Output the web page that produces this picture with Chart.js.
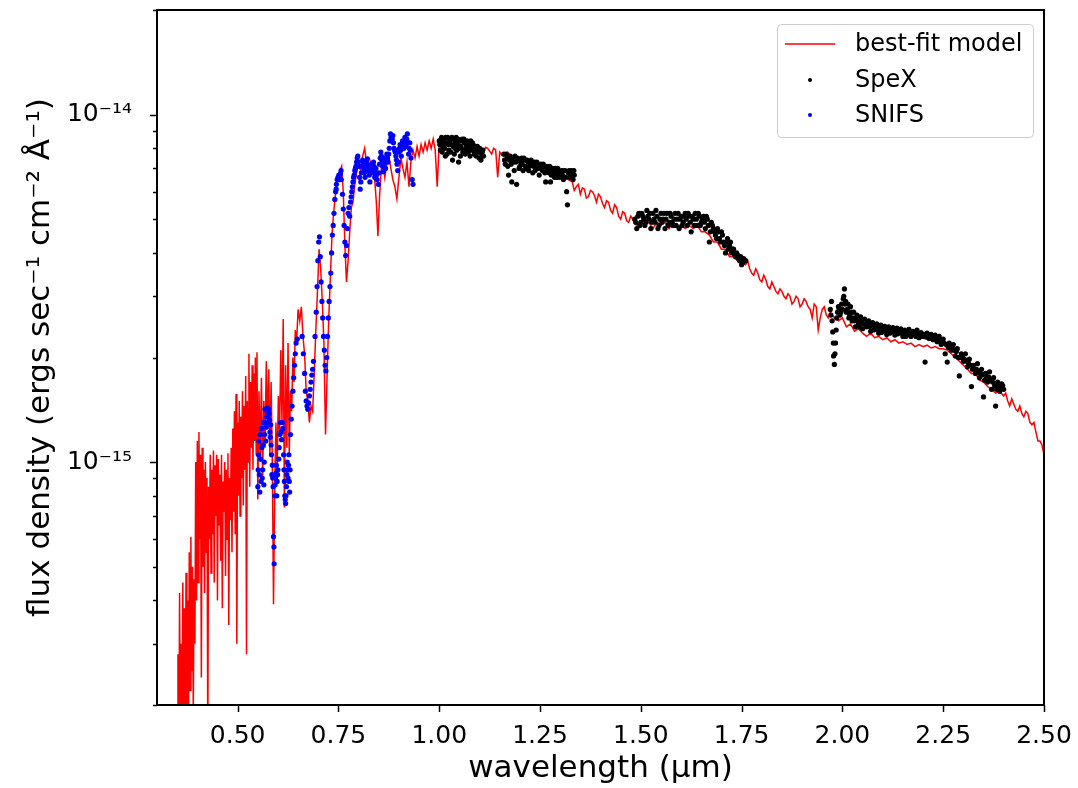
<!DOCTYPE html>
<html>
<head>
<meta charset="utf-8">
<script src="https://cdn.jsdelivr.net/npm/chart.js@4.4.1/dist/chart.umd.min.js"></script>
<style>
  html, body { margin: 0; padding: 0; background: #fff; }
  canvas { display: block; }
</style>
</head>
<body>
<canvas id="sedChart" width="1078" height="788" style="width:1078px;height:788px"></canvas>
<script>
// flux values below are in units of 1e-15 ergs/s/cm2/A
const FLUX_UNIT = 1e-15;

// best-fit model: [wavelength (um), flux]
const modelSpectrum = [
  [0.350,0.15],[0.352,0.28],[0.354,0.12],[0.356,0.42],[0.358,0.15],[0.360,0.30],[0.362,0.13],[0.364,0.45],
  [0.366,0.18],[0.368,0.38],[0.370,0.16],[0.372,0.48],[0.374,0.20],[0.376,0.40],[0.378,0.14],[0.380,0.55],
  [0.382,0.22],[0.384,0.61],[0.386,0.25],[0.388,0.50],[0.390,0.19],[0.392,0.46],[0.394,0.30],[0.396,1.00],
  [0.398,0.40],[0.400,1.15],[0.402,0.45],[0.404,1.22],[0.406,0.60],[0.408,1.05],[0.410,0.24],[0.412,1.10],
  [0.414,0.50],[0.416,0.95],[0.418,0.42],[0.420,1.00],[0.422,0.55],[0.424,0.90],[0.426,0.15],[0.428,0.85],
  [0.430,0.60],[0.432,1.05],[0.434,0.48],[0.436,0.95],[0.438,0.62],[0.440,1.08],[0.442,0.45],[0.444,0.98],
  [0.446,0.70],[0.448,1.05],[0.450,0.40],[0.452,1.02],[0.454,0.66],[0.456,0.92],[0.458,0.52],[0.460,1.05],
  [0.462,0.38],[0.464,0.88],[0.466,0.72],[0.468,1.00],[0.470,0.47],[0.472,0.95],[0.474,0.60],[0.476,1.06],
  [0.478,0.34],[0.480,0.90],[0.482,0.68],[0.484,1.10],[0.486,0.55],[0.488,1.25],[0.490,0.72],[0.492,1.40],
  [0.494,0.62],[0.496,1.57],[0.498,0.30],[0.500,1.30],[0.502,0.80],[0.504,1.50],[0.506,0.70],[0.508,1.35],
  [0.510,0.90],[0.512,1.60],[0.514,0.75],[0.516,1.45],[0.518,0.95],[0.520,1.77],[0.522,0.28],[0.524,1.50],
  [0.526,1.00],[0.528,2.05],[0.530,0.85],[0.532,1.70],[0.534,1.10],[0.536,1.90],[0.538,0.95],[0.540,1.80],
  [0.542,1.15],[0.544,2.00],[0.546,1.05],[0.548,2.07],[0.550,0.78],[0.553,1.60],[0.556,1.00],[0.559,1.75],
  [0.562,0.90],[0.565,1.50],[0.568,1.10],[0.571,1.95],[0.574,1.25],[0.577,1.85],[0.580,1.05],[0.583,1.70],
  [0.586,1.00],[0.589,0.39],[0.592,0.85],[0.595,1.30],[0.598,0.95],[0.601,1.55],[0.604,1.20],[0.607,2.10],
  [0.610,1.30],[0.613,2.58],[0.616,0.74],[0.619,1.90],[0.622,1.10],[0.625,2.20],[0.628,1.05],[0.631,1.60],
  [0.634,1.40],[0.637,2.00],[0.640,1.70],[0.643,2.40],[0.646,2.20],[0.650,2.75],[0.654,2.55],[0.658,2.80],
  [0.662,2.30],[0.666,2.05],[0.670,1.60],[0.674,1.50],[0.678,1.30],[0.682,1.45],[0.686,1.40],[0.690,1.80],
  [0.694,2.40],[0.698,3.10],[0.702,4.10],[0.706,3.60],[0.710,2.90],[0.714,2.20],[0.718,1.20],[0.722,1.80],
  [0.726,2.60],[0.730,3.40],[0.734,4.50],[0.738,5.20],[0.742,5.80],[0.746,6.30],[0.750,6.70],[0.754,6.90],
  [0.758,7.10],[0.762,6.00],[0.766,4.20],[0.770,3.30],[0.774,3.80],[0.778,4.60],[0.782,5.40],[0.786,5.60],
  [0.790,6.20],[0.795,6.80],[0.800,7.20],[0.805,6.90],[0.810,7.60],[0.815,8.00],[0.820,7.20],[0.825,6.80],
  [0.830,7.30],[0.835,6.90],[0.840,6.50],[0.844,5.60],[0.848,4.47],[0.852,5.80],[0.856,6.90],[0.860,7.40],
  [0.865,6.60],[0.870,7.20],[0.875,7.60],[0.880,7.00],[0.885,6.50],[0.890,6.20],[0.895,5.72],[0.900,6.60],
  [0.905,7.50],[0.910,7.00],[0.915,6.60],[0.920,7.30],[0.925,6.20],[0.930,7.40],[0.935,7.90],[0.940,7.50],
  [0.945,8.10],[0.950,7.60],[0.955,8.20],[0.960,7.80],[0.965,8.30],[0.970,7.90],[0.975,8.40],[0.980,8.00],
  [0.985,8.50],[0.990,7.90],[0.995,6.20],[1.000,8.30],[1.010,8.00],[1.020,8.30],[1.030,8.10],[1.040,8.40],
  [1.050,8.00],[1.060,8.30],[1.070,7.90],[1.080,8.20],[1.090,7.80],[1.100,8.10],[1.110,7.80],[1.120,8.00],
  [1.130,7.70],[1.140,7.90],[1.145,6.60],[1.150,7.80],[1.160,7.60],[1.170,7.80],[1.180,7.50],[1.190,7.60],
  [1.200,7.30],[1.210,7.50],[1.220,7.20],[1.230,7.30],[1.240,7.00],[1.250,7.20],[1.260,6.90],[1.270,7.00],
  [1.280,6.80],[1.290,6.90],[1.300,6.60],[1.310,6.70],[1.320,6.50],[1.330,6.40],[1.340,6.20],[1.350,5.90],
  [1.360,6.10],[1.370,5.80],[1.380,6.00],[1.390,5.60],[1.400,5.80],[1.410,5.40],[1.420,5.60],[1.430,5.20],
  [1.440,5.40],[1.450,5.00],[1.460,5.20],[1.470,4.90],[1.480,5.00],[1.490,4.80],[1.500,4.90],[1.510,4.80],
  [1.520,4.90],[1.530,4.70],[1.540,4.90],[1.550,4.80],[1.560,4.90],[1.570,4.70],[1.580,4.90],[1.590,4.80],
  [1.600,4.80],[1.610,4.70],[1.620,4.80],[1.630,4.70],[1.640,4.80],[1.650,4.60],[1.660,4.60],[1.670,4.50],
  [1.680,4.30],[1.690,4.30],[1.700,4.10],[1.710,4.10],[1.720,3.90],[1.730,3.90],[1.740,3.80],[1.750,3.80],
  [1.760,3.70],[1.770,3.60],[1.780,3.45],[1.790,3.50],[1.800,3.30],[1.810,3.35],[1.820,3.15],[1.830,3.20],
  [1.840,3.05],[1.850,3.10],[1.860,2.95],[1.870,3.00],[1.880,2.90],[1.890,2.95],[1.900,2.85],[1.910,2.90],
  [1.920,2.75],[1.930,2.85],[1.940,2.40],[1.950,2.75],[1.960,2.65],[1.970,2.70],[1.980,2.60],[1.990,2.55],
  [2.000,2.60],[2.010,2.45],[2.020,2.50],[2.030,2.38],[2.040,2.42],[2.050,2.35],[2.060,2.30],[2.070,2.35],
  [2.080,2.28],[2.090,2.30],[2.100,2.25],[2.110,2.28],[2.120,2.22],[2.130,2.25],[2.140,2.20],[2.150,2.22],
  [2.160,2.18],[2.170,2.20],[2.180,2.15],[2.190,2.18],[2.200,2.15],[2.210,2.17],[2.220,2.13],[2.230,2.15],
  [2.240,2.12],[2.250,2.12],[2.260,2.10],[2.270,2.05],[2.280,2.00],[2.290,1.95],[2.300,1.90],[2.310,1.85],
  [2.320,1.80],[2.330,1.80],[2.340,1.72],[2.350,1.70],[2.360,1.65],[2.370,1.62],[2.380,1.58],[2.390,1.60],
  [2.400,1.55],[2.410,1.50],[2.420,1.52],[2.430,1.42],[2.440,1.45],[2.450,1.35],[2.460,1.38],[2.470,1.28],
  [2.480,1.22],[2.490,1.15],[2.500,1.05]
];

// extra model samples read in the parts where the red curve is not hidden by data points
const modelDetail = [
  [1.115,8.05],[1.125,7.85],[1.135,8.00],[1.155,7.65],
  [1.335,6.05],[1.345,6.30],[1.355,6.15],[1.365,5.75],[1.375,6.05],[1.385,5.85],[1.395,5.90],[1.405,5.55],
  [1.415,5.65],[1.425,5.30],[1.435,5.50],[1.445,5.10],[1.455,5.25],[1.465,4.95],[1.475,5.10],[1.485,4.85],
  [1.755,3.75],[1.765,3.80],[1.775,3.50],[1.785,3.60],[1.795,3.35],[1.805,3.45],[1.815,3.20],[1.825,3.30],
  [1.835,3.10],[1.845,3.15],[1.855,3.00],[1.865,3.05],[1.875,2.85],[1.885,3.00],[1.895,2.80],[1.905,2.95],
  [1.915,2.80],[1.925,2.60],[1.935,2.80],[1.945,2.60],[1.955,2.80],[1.965,2.60],
  [2.405,1.58],[2.415,1.45],[2.425,1.47],[2.435,1.40],[2.445,1.38],[2.455,1.40],[2.465,1.30],[2.475,1.30],
  [2.485,1.15],[2.495,1.12]
];

// SpeX observed points: [wavelength (um), flux]
const spexPoints = [
  [1.000,8.4],[1.003,7.9],[1.006,8.6],[1.009,8.1],[1.012,8.5],[1.015,7.6],[1.018,8.3],[1.021,8.6],
  [1.024,7.9],[1.027,8.4],[1.030,8.2],[1.033,7.4],[1.036,8.5],[1.039,8.0],[1.042,8.6],[1.045,8.2],
  [1.048,7.3],[1.051,8.4],[1.054,8.1],[1.057,8.5],[1.060,7.9],[1.063,8.3],[1.066,8.0],[1.069,8.4],
  [1.072,7.8],[1.075,8.2],[1.078,8.4],[1.081,7.9],[1.084,8.2],[1.087,7.7],[1.090,8.1],[1.093,7.8],
  [1.096,8.0],[1.099,7.5],[1.102,7.9],[1.105,7.7],[1.108,7.9],[1.110,7.6],
  [1.0015,8.2],[1.0045,8.5],[1.0075,7.8],[1.0105,8.3],[1.0135,8.0],[1.0165,8.6],[1.0195,7.7],[1.0225,8.2],
  [1.0255,8.5],[1.0285,7.8],[1.0315,8.6],[1.0345,8.1],[1.0375,7.7],[1.0405,8.3],[1.0435,7.9],[1.0465,8.5],
  [1.0495,8.0],[1.0525,7.6],[1.0555,8.4],[1.0585,7.8],[1.0615,8.5],[1.0645,7.7],[1.0675,8.2],[1.0705,8.0],
  [1.0735,8.3],[1.0765,7.6],[1.0795,8.1],[1.0825,8.3],[1.0855,7.9],[1.0885,8.0],[1.0915,7.6],[1.0945,8.1],
  [1.0975,7.8],[1.1005,8.0],[1.1035,7.4],[1.1065,7.8],
  [1.160,7.7],[1.164,7.2],[1.168,7.5],[1.172,6.7],[1.176,7.6],[1.180,6.4],[1.184,7.3],[1.188,7.6],
  [1.192,6.3],[1.196,7.4],[1.200,7.1],[1.204,7.5],[1.208,6.9],[1.212,7.4],[1.216,7.0],[1.220,7.3],
  [1.224,7.1],[1.228,7.4],[1.232,6.8],[1.236,7.3],[1.240,7.0],[1.244,7.2],[1.248,6.7],[1.252,7.2],
  [1.256,6.9],[1.260,7.1],[1.264,6.4],[1.268,7.0],[1.272,6.8],[1.276,6.4],[1.280,7.0],[1.284,6.8],
  [1.288,7.0],[1.292,6.6],[1.296,6.9],[1.300,6.7],[1.304,6.9],[1.308,6.5],[1.312,6.9],[1.316,6.0],
  [1.318,5.5],[1.320,6.8],[1.324,6.6],[1.328,6.9],[1.332,6.5],[1.335,6.7],
  [1.162,7.4],[1.166,7.7],[1.170,7.1],[1.174,7.4],[1.178,7.2],[1.182,7.5],[1.186,6.9],[1.190,7.3],
  [1.194,7.5],[1.198,7.0],[1.202,7.3],[1.206,7.2],[1.210,7.5],[1.214,7.1],[1.218,7.4],[1.222,6.9],
  [1.226,7.2],[1.230,7.3],[1.234,7.1],[1.238,6.9],[1.242,7.3],[1.246,7.0],[1.250,7.1],[1.254,7.0],
  [1.258,7.2],[1.262,6.8],[1.266,7.1],[1.270,6.9],[1.274,7.1],[1.278,6.7],[1.282,6.9],[1.286,6.6],
  [1.290,6.8],[1.294,7.0],[1.298,6.6],[1.302,6.8],[1.306,6.7],[1.310,6.9],[1.314,6.6],[1.322,6.9],
  [1.326,6.7],[1.330,6.8],[1.334,6.9],
  [1.485,5.0],[1.490,4.7],[1.495,5.2],[1.500,4.9],[1.505,5.1],[1.510,4.8],[1.515,5.3],[1.520,5.0],
  [1.525,4.7],[1.530,5.2],[1.535,4.9],[1.540,5.1],[1.545,4.8],[1.550,5.2],[1.555,5.0],[1.560,4.7],
  [1.565,5.2],[1.570,4.9],[1.575,5.1],[1.580,4.8],[1.585,5.2],[1.590,5.0],[1.595,4.7],[1.600,5.1],
  [1.605,4.9],[1.610,5.2],[1.615,4.8],[1.620,5.1],[1.625,4.6],[1.630,5.0],[1.635,5.2],[1.640,4.8],
  [1.645,5.1],[1.650,4.9],[1.655,5.1],[1.660,4.7],[1.665,5.0],[1.670,4.3],[1.675,4.9],[1.680,4.7],
  [1.685,4.5],[1.690,4.7],[1.695,4.4],[1.700,4.6],[1.705,4.3],[1.710,4.0],[1.715,4.4],[1.720,4.2],
  [1.725,4.0],[1.730,4.1],[1.735,3.9],[1.740,3.95],[1.745,3.8],[1.750,3.7],[1.755,3.85],[1.760,3.8],
  [1.4875,4.9],[1.4925,5.1],[1.4975,4.8],[1.5025,5.2],[1.5075,5.0],[1.5125,4.9],[1.5175,5.1],[1.5225,5.2],
  [1.5275,4.9],[1.5325,5.0],[1.5375,5.3],[1.5425,4.7],[1.5475,5.0],[1.5525,4.9],[1.5575,5.2],[1.5625,5.0],
  [1.5675,4.8],[1.5725,5.2],[1.5775,4.9],[1.5825,5.0],[1.5875,4.8],[1.5925,5.2],[1.5975,5.0],[1.6025,4.8],
  [1.6075,5.1],[1.6125,5.0],[1.6175,5.2],[1.6225,4.9],[1.6275,5.1],[1.6325,4.8],[1.6375,5.0],[1.6425,5.2],
  [1.6475,4.8],[1.6525,5.0],[1.6575,4.9],[1.6625,5.1],[1.6675,4.8],[1.6725,4.6],[1.6775,4.8],[1.6825,4.6],
  [1.6875,4.4],[1.6925,4.6],[1.6975,4.3],[1.7025,4.5],[1.7075,4.2],[1.7125,4.3],[1.7175,4.1],[1.7225,4.3],
  [1.7275,4.1],[1.7325,3.95],[1.7375,4.0],[1.7425,3.85],[1.7475,3.9],[1.7525,3.75],
  [1.970,2.75],[1.973,2.90],[1.976,2.37],[1.978,2.02],[1.980,1.91],[1.983,2.20],[1.986,2.60],[1.990,2.80],
  [1.994,2.65],[1.998,2.85],[2.002,2.95],[2.005,3.15],[2.008,2.90],[2.012,2.75],[2.016,2.60],[2.020,2.80],
  [2.024,2.55],[2.028,2.70],[2.032,2.45],[2.036,2.65],[2.040,2.50],[2.045,2.62],[2.050,2.42],[2.055,2.58],
  [2.060,2.45],[2.065,2.55],[2.070,2.38],[2.075,2.52],[2.080,2.42],[2.085,2.50],[2.090,2.35],[2.095,2.48],
  [2.100,2.40],[2.105,2.46],[2.110,2.33],[2.115,2.45],[2.120,2.38],[2.125,2.44],[2.130,2.32],[2.135,2.43],
  [2.140,2.36],[2.145,2.42],[2.150,2.30],[2.155,2.40],[2.160,2.33],[2.165,2.41],[2.170,2.30],[2.175,2.38],
  [2.180,2.32],[2.185,2.40],[2.190,2.28],[2.195,2.36],[2.200,2.30],[2.205,1.94],[2.210,2.35],[2.215,2.27],
  [2.220,2.33],[2.225,2.25],[2.230,2.32],[2.235,2.22],[2.240,2.30],[2.245,2.18],[2.250,2.26],[2.255,2.05],
  [2.260,1.94],[2.265,2.20],[2.270,2.10],[2.275,2.18],[2.280,2.02],[2.285,2.12],[2.290,1.77],[2.295,2.05],
  [2.300,1.95],[2.305,2.05],[2.310,1.88],[2.315,1.98],[2.320,1.65],[2.325,1.90],[2.330,1.80],[2.335,1.92],
  [2.340,1.75],[2.345,1.85],[2.350,1.54],[2.355,1.80],[2.360,1.70],[2.365,1.82],[2.370,1.62],[2.375,1.75],
  [2.380,1.45],[2.385,1.70],[2.390,1.60],[2.395,1.68],[2.400,1.62],
  [1.9715,2.65],[1.9745,2.55],[1.9775,2.20],[1.9815,2.05],[1.9845,2.40],[1.988,2.70],[1.992,2.75],[1.996,2.70],
  [2.000,2.75],[2.0035,3.00],[2.0065,2.85],[2.010,2.70],[2.014,2.85],[2.018,2.65],[2.022,2.70],[2.026,2.60],
  [2.030,2.55],[2.034,2.60],[2.038,2.55],[2.0425,2.45],[2.0475,2.55],[2.0525,2.50],[2.0575,2.48],[2.0625,2.52],
  [2.0675,2.45],[2.0725,2.48],[2.0775,2.40],[2.0825,2.46],[2.0875,2.40],[2.0925,2.44],[2.0975,2.36],[2.1025,2.42],
  [2.1075,2.38],[2.1125,2.42],[2.1175,2.35],[2.1225,2.41],[2.1275,2.37],[2.1325,2.40],[2.1375,2.34],[2.1425,2.38],
  [2.1475,2.35],[2.1525,2.37],[2.1575,2.30],[2.1625,2.36],[2.1675,2.35],[2.1725,2.34],[2.1775,2.36],[2.1825,2.30],
  [2.1875,2.35],[2.1925,2.33],[2.1975,2.30],[2.2025,2.33],[2.2075,2.29],[2.2125,2.31],[2.2175,2.30],[2.2225,2.28],
  [2.2275,2.29],[2.2325,2.26],[2.2375,2.27],[2.2425,2.24],[2.2475,2.22],[2.2525,2.20],[2.2575,2.18],[2.2625,2.14],
  [2.2675,2.15],[2.2725,2.14],[2.2775,2.10],[2.2825,2.08],[2.2875,2.00],[2.2925,2.00],[2.2975,2.00],[2.3025,1.98],
  [2.3075,1.95],[2.3125,1.93],[2.3175,1.90],[2.3225,1.85],[2.3275,1.85],[2.3325,1.85],[2.3375,1.82],[2.3425,1.80],
  [2.3475,1.78],[2.3525,1.72],[2.3575,1.75],[2.3625,1.76],[2.3675,1.72],[2.3725,1.70],[2.3775,1.66],[2.3825,1.62],
  [2.3875,1.65],[2.3925,1.64],[2.3975,1.66]
];

// SNIFS observed points: [wavelength (um), flux]
const snifsPoints = [
  [0.550,0.85],[0.552,1.05],[0.554,0.92],[0.556,1.20],[0.558,0.88],[0.560,1.10],[0.562,0.95],[0.564,1.30],
  [0.566,1.00],[0.568,1.42],[0.570,1.15],[0.572,1.35],[0.574,1.43],[0.576,1.30],[0.578,1.38],[0.580,1.22],
  [0.582,1.28],[0.584,1.05],[0.586,0.98],[0.588,0.85],[0.589,0.61],[0.590,0.57],[0.5905,0.51],[0.592,0.80],
  [0.594,0.90],[0.596,0.98],[0.598,0.88],[0.600,0.95],[0.603,1.10],[0.606,1.30],[0.609,1.16],[0.612,1.25],
  [0.615,0.95],[0.617,0.80],[0.619,0.76],[0.621,0.85],[0.623,1.00],[0.625,0.90],[0.627,1.05],[0.629,0.82],
  [0.631,1.20],[0.633,1.33],[0.635,1.45],[0.637,1.60],[0.639,1.75],[0.641,1.90],[0.643,2.05],[0.645,2.20],
  [0.648,2.26],[0.660,2.30],[0.663,2.05],[0.666,1.80],[0.668,1.60],[0.670,1.50],[0.672,1.45],[0.674,1.42],
  [0.676,1.48],[0.678,1.55],[0.680,1.62],[0.682,1.70],[0.684,1.78],[0.686,1.85],[0.688,1.95],[0.692,2.30],
  [0.695,2.70],[0.697,3.20],[0.699,3.80],[0.701,4.30],[0.703,4.45],[0.705,3.90],[0.707,3.30],[0.709,2.90],
  [0.711,2.60],[0.713,2.30],[0.715,2.10],[0.717,1.90],[0.719,1.83],[0.721,2.00],[0.723,2.30],[0.725,2.60],
  [0.727,2.90],[0.729,3.20],[0.731,3.50],[0.733,4.00],[0.735,4.50],[0.737,4.80],[0.739,5.20],[0.741,5.70],
  [0.743,6.00],[0.745,6.30],[0.747,6.50],[0.749,6.60],[0.751,6.70],[0.753,6.60],[0.755,6.75],[0.757,6.50],
  [0.760,5.90],[0.762,5.35],[0.764,4.80],[0.766,4.30],[0.768,3.93],[0.770,4.20],[0.772,4.70],[0.774,5.20],
  [0.776,5.40],[0.778,5.10],[0.780,5.60],[0.783,6.00],[0.786,6.40],[0.789,6.70],[0.792,7.00],[0.795,7.30],
  [0.798,7.60],[0.801,7.10],[0.804,6.10],[0.807,6.80],[0.810,7.40],[0.813,7.00],[0.816,6.60],[0.819,7.20],
  [0.822,7.46],[0.825,6.90],[0.828,6.40],[0.831,7.10],[0.834,6.80],[0.837,7.30],[0.840,6.60],[0.843,7.00],
  [0.846,6.50],[0.849,6.30],[0.852,7.20],[0.855,7.80],[0.858,7.40],[0.861,6.85],[0.864,7.50],[0.867,7.00],
  [0.870,7.70],[0.873,7.30],[0.876,8.00],[0.879,8.80],[0.882,8.40],[0.885,8.70],[0.888,8.00],[0.891,7.80],
  [0.894,7.40],[0.897,6.90],[0.900,7.80],[0.903,8.20],[0.906,7.60],[0.909,8.40],[0.912,8.00],[0.915,8.60],
  [0.918,8.10],[0.921,8.80],[0.924,7.70],[0.927,8.30],[0.930,7.50],[0.933,6.50],[0.935,6.30],
  [0.551,0.95],[0.553,1.15],[0.555,0.82],[0.557,1.02],[0.559,1.25],[0.561,0.90],[0.563,1.12],[0.565,0.86],
  [0.567,1.20],[0.569,1.30],[0.571,1.26],[0.573,1.40],[0.575,1.36],[0.577,1.42],[0.579,1.32],[0.581,1.18],
  [0.583,1.12],[0.585,0.92],[0.587,0.90],[0.593,0.86],[0.595,0.93],[0.597,0.80],[0.599,0.92],[0.602,1.02],
  [0.605,1.20],[0.608,1.22],[0.611,1.30],[0.614,1.05],[0.616,0.88],[0.618,0.78],[0.620,0.80],[0.622,0.92],
  [0.624,0.95],[0.626,0.98],[0.628,0.88],[0.630,0.95],
  [0.7445,6.10],[0.7525,6.50],[0.7565,6.90],[0.7815,5.80],[0.7845,6.20],[0.7875,6.60],[0.7905,6.90],[0.7935,7.10],
  [0.7965,7.50],[0.7995,7.30],[0.8025,6.60],[0.8055,6.40],[0.8085,7.10],[0.8115,7.30],[0.8145,6.80],[0.8175,6.90],
  [0.8205,7.30],[0.8235,7.10],[0.8265,6.70],[0.8295,6.80],[0.8325,7.20],[0.8355,7.00],[0.8385,7.10],[0.8415,6.80],
  [0.8445,6.70],[0.8505,6.80],[0.8535,7.50],[0.8565,7.60],[0.8595,7.10],[0.8625,7.20],[0.8655,7.30],[0.8685,7.40],
  [0.8715,7.50],[0.8745,7.70],[0.8775,8.40],[0.8805,8.60],[0.8835,8.50],[0.8865,8.30],[0.8895,7.90],[0.8925,7.60],
  [0.8955,7.20],[0.8985,7.30],[0.9015,8.00],[0.9045,7.90],[0.9075,8.00],[0.9105,8.20],[0.9135,8.30],[0.9165,8.40],
  [0.9195,8.50],[0.9225,8.30],[0.9255,8.00],[0.9285,7.90]
];

const xTickValues = [0.5, 0.75, 1.0, 1.25, 1.5, 1.75, 2.0, 2.25, 2.5];
const xTickLabels = ['0.50', '0.75', '1.00', '1.25', '1.50', '1.75', '2.00', '2.25', '2.50'];
const yTickValues = [0.2, 0.3, 0.4, 0.5, 0.6, 0.7, 0.8, 0.9, 1, 2, 3, 4, 5, 6, 7, 8, 9, 10, 20];
const yTickLabels = ['', '', '', '', '', '', '', '', '10\u207B\u00B9\u2075', '', '', '', '', '', '', '', '', '10\u207B\u00B9\u2074', ''];

const toXY = (pts) => pts.map(p => ({ x: p[0], y: p[1] * FLUX_UNIT }));
const modelLine = modelSpectrum.concat(modelDetail).sort((a, b) => a[0] - b[0]);

// outward tick marks + black frame, like matplotlib
const axesFrame = {
  id: 'axesFrame',
  afterDraw(chart) {
    const { ctx, chartArea: a, scales: { x, y } } = chart;
    ctx.save();
    ctx.strokeStyle = '#000';
    ctx.lineWidth = 1.5;
    ctx.beginPath();
    xTickValues.forEach(v => {
      const px = Math.round(x.getPixelForValue(v)) + 0.5;
      ctx.moveTo(px, a.bottom);
      ctx.lineTo(px, a.bottom + 7);
    });
    yTickValues.forEach((v, i) => {
      const py = Math.round(y.getPixelForValue(v * FLUX_UNIT)) + 0.5;
      ctx.moveTo(a.left, py);
      ctx.lineTo(a.left - (yTickLabels[i] ? 7 : 4), py);
    });
    ctx.stroke();
    ctx.lineWidth = 2;
    ctx.strokeRect(a.left, a.top, a.right - a.left, a.bottom - a.top);
    ctx.restore();
  }
};

// legend box in the upper right of the axes
const legendBox = {
  id: 'legendBox',
  afterDraw(chart) {
    const { ctx, chartArea: a } = chart;
    const ds = chart.data.datasets;
    const w = 256, h = 113;
    const left = a.right - 11 - w, top = a.top + 14;
    ctx.save();
    ctx.fillStyle = 'rgba(255,255,255,0.8)';
    ctx.strokeStyle = '#cccccc';
    ctx.lineWidth = 1;
    ctx.beginPath();
    ctx.roundRect(left + 0.5, top + 0.5, w, h, 4);
    ctx.fill();
    ctx.stroke();
    ctx.font = '24px "DejaVu Sans"';
    ctx.textBaseline = 'middle';
    const rows = [20, 56, 91];
    ds.forEach((d, i) => {
      const cy = top + rows[i];
      if (d.showLine) {
        ctx.strokeStyle = d.borderColor;
        ctx.lineWidth = 1.5;
        ctx.beginPath();
        ctx.moveTo(left + 8, cy);
        ctx.lineTo(left + 58, cy);
        ctx.stroke();
      } else {
        ctx.fillStyle = d.backgroundColor;
        ctx.beginPath();
        ctx.arc(left + 33, cy, 2, 0, Math.PI * 2);
        ctx.fill();
      }
      ctx.fillStyle = '#000';
      ctx.fillText(d.label, left + 78, cy + 1);
    });
    ctx.restore();
  }
};

const tickFont = { family: 'DejaVu Sans', size: 25 };
const titleFont = { family: 'DejaVu Sans', size: 31 };

new Chart(document.getElementById('sedChart'), {
  type: 'scatter',
  data: {
    datasets: [
      {
        label: 'best-fit model',
        data: toXY(modelLine),
        showLine: true,
        borderColor: '#ff0000',
        backgroundColor: '#ff0000',
        borderWidth: 1.5,
        pointRadius: 0,
        clip: 0,
        order: 2
      },
      {
        label: 'SpeX',
        data: toXY(spexPoints),
        showLine: false,
        borderColor: '#000000',
        backgroundColor: '#000000',
        pointRadius: 2.6,
        borderWidth: 0,
        order: 1
      },
      {
        label: 'SNIFS',
        data: toXY(snifsPoints),
        showLine: false,
        borderColor: '#0000ff',
        backgroundColor: '#0000ff',
        pointRadius: 2.6,
        borderWidth: 0,
        order: 0
      }
    ]
  },
  options: {
    responsive: false,
    animation: false,
    devicePixelRatio: 1,
    events: [],
    layout: { padding: { left: 0, right: 34, top: 10, bottom: 0 } },
    plugins: {
      legend: { display: false },
      tooltip: { enabled: false }
    },
    scales: {
      x: {
        type: 'linear',
        min: 0.3,
        max: 2.5,
        grid: { display: false },
        border: { display: false },
        afterBuildTicks: (scale) => { scale.ticks = xTickValues.map(v => ({ value: v })); },
        afterFit: (scale) => { scale.height = 83; scale.paddingLeft = 0; scale.paddingRight = 0; },
        ticks: {
          autoSkip: false,
          maxRotation: 0,
          padding: 8,
          color: '#000',
          font: tickFont,
          callback: (value, index) => xTickLabels[index]
        },
        title: {
          display: true,
          text: 'wavelength (\u03BCm)',
          color: '#000',
          font: titleFont,
          padding: { top: 0, bottom: 0 }
        }
      },
      y: {
        type: 'logarithmic',
        min: 0.2 * FLUX_UNIT,
        max: 20 * FLUX_UNIT,
        grid: { display: false },
        border: { display: false },
        afterBuildTicks: (scale) => { scale.ticks = yTickValues.map(v => ({ value: v * FLUX_UNIT })); },
        afterFit: (scale) => { scale.width = 157; scale.paddingTop = 0; scale.paddingBottom = 0; },
        ticks: {
          autoSkip: false,
          padding: 17,
          color: '#000',
          font: tickFont,
          callback: (value, index) => yTickLabels[index]
        },
        title: {
          display: true,
          text: 'flux density (ergs sec\u207B\u00B9 cm\u207B\u00B2 \u00C5\u207B\u00B9)',
          color: '#000',
          font: titleFont,
          padding: { top: 22, bottom: 0 }
        }
      }
    }
  },
  plugins: [axesFrame, legendBox]
});
</script>
</body>
</html>
